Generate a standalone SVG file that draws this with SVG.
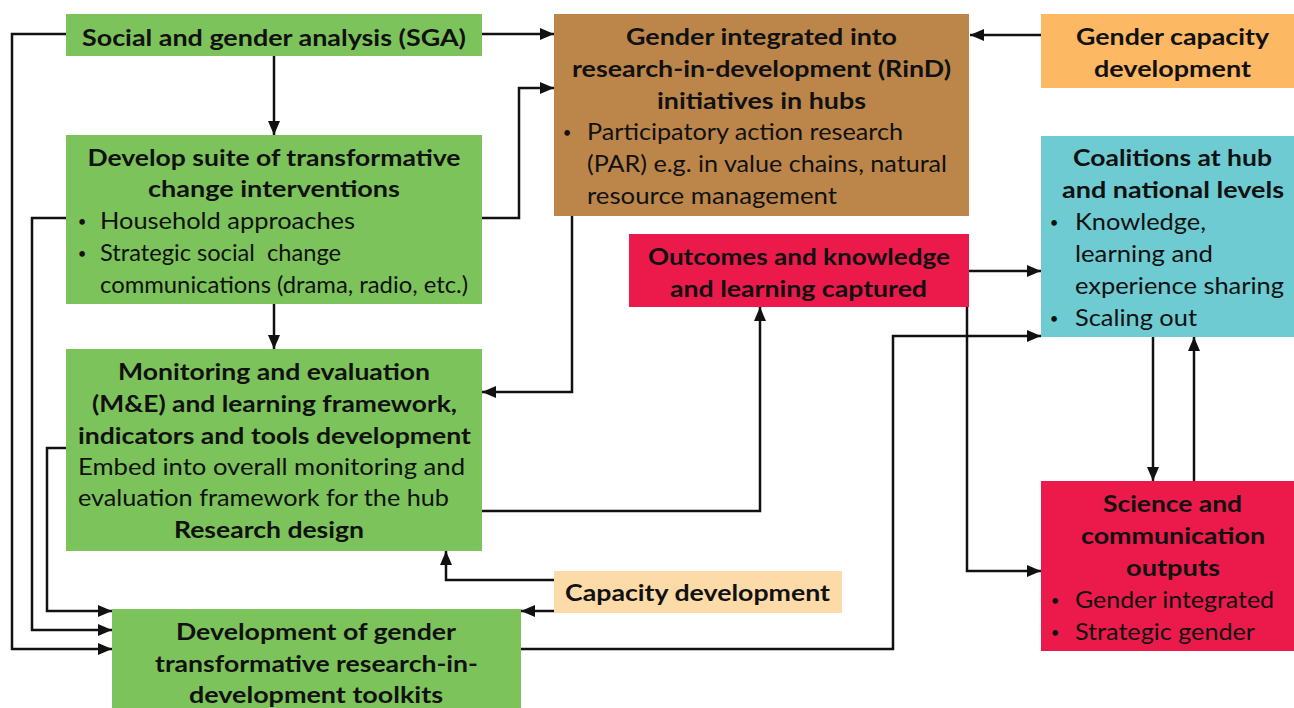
<svg xmlns="http://www.w3.org/2000/svg" width="1294" height="708" viewBox="0 0 1294 708">
<style>
text{font-family:Lato,"Liberation Sans",sans-serif;font-size:23px;fill:#111;}
.b{font-weight:bold;}
.dot{font-size:15px;text-anchor:middle;}
.green{fill:#7dc35b;}
.brown{fill:#bc864b;}
.orange{fill:#fdb863;}
.teal{fill:#6dcbd1;}
.red{fill:#ec1a4b;}
.peach{fill:#fddba8;}
.c{fill:none;stroke:#111;stroke-width:2.5;}
</style>
<defs>
<marker id="ah" viewBox="0 0 14 12" refX="14" refY="6" markerWidth="14" markerHeight="12" markerUnits="userSpaceOnUse" orient="auto">
<path d="M0,0 L14,6 L0,12 z" fill="#111"/>
</marker>
</defs>
<rect width="1294" height="708" fill="#fff"/>
<g id="connectors">
<path class="c" d="M66,34 H12 V649 H112" marker-end="url(#ah)"/>
<path class="c" d="M482,34 H554" marker-end="url(#ah)"/>
<path class="c" d="M274,56 V135" marker-end="url(#ah)"/>
<path class="c" d="M482,218 H519 V88 H554" marker-end="url(#ah)"/>
<path class="c" d="M66,218 H32 V630 H112" marker-end="url(#ah)"/>
<path class="c" d="M274,304 V349" marker-end="url(#ah)"/>
<path class="c" d="M66,448 H47 V611 H112" marker-end="url(#ah)"/>
<path class="c" d="M572,216 V392 H482" marker-end="url(#ah)"/>
<path class="c" d="M482,511 H760 V307" marker-end="url(#ah)"/>
<path class="c" d="M554,580 H446 V551" marker-end="url(#ah)"/>
<path class="c" d="M554,611 H521" marker-end="url(#ah)"/>
<path class="c" d="M521,649 H893 V336 H1041" marker-end="url(#ah)"/>
<path class="c" d="M969,271 H1041" marker-end="url(#ah)"/>
<path class="c" d="M967,307 V571 H1041" marker-end="url(#ah)"/>
<path class="c" d="M1153,337 V481" marker-end="url(#ah)"/>
<path class="c" d="M1194,481 V337" marker-end="url(#ah)"/>
<path class="c" d="M1041,35 H970" marker-end="url(#ah)"/>
</g>
<g id="sga">
<rect class="green" x="66" y="14" width="416" height="42"/>
<text class="b" x="82" y="46" textLength="384" lengthAdjust="spacingAndGlyphs">Social and gender analysis (SGA)</text>
</g>
<g id="develop-suite">
<rect class="green" x="66" y="135" width="416" height="169"/>
<text class="b" x="87.5" y="166" textLength="373" lengthAdjust="spacingAndGlyphs">Develop suite of transformative</text>
<text class="b" x="148" y="197" textLength="252" lengthAdjust="spacingAndGlyphs">change interventions</text>
<text class="dot" x="82" y="227">•</text>
<text x="100" y="229" textLength="255" lengthAdjust="spacingAndGlyphs">Household approaches</text>
<text class="dot" x="82" y="259">•</text>
<text x="100" y="261" textLength="241" lengthAdjust="spacingAndGlyphs" xml:space="preserve">Strategic social  change</text>
<text x="100" y="293" textLength="368" lengthAdjust="spacingAndGlyphs">communications (drama, radio, etc.)</text>
</g>
<g id="me-framework">
<rect class="green" x="66" y="349" width="416" height="202"/>
<text class="b" x="118" y="380" textLength="312" lengthAdjust="spacingAndGlyphs">Monitoring and evaluation</text>
<text class="b" x="92" y="412" textLength="365" lengthAdjust="spacingAndGlyphs">(M&amp;E) and learning framework,</text>
<text class="b" x="78" y="444" textLength="393" lengthAdjust="spacingAndGlyphs">indicators and tools development</text>
<text x="78" y="475" textLength="387" lengthAdjust="spacingAndGlyphs">Embed into overall monitoring and</text>
<text x="78" y="506" textLength="371" lengthAdjust="spacingAndGlyphs">evaluation framework for the hub</text>
<text class="b" x="174" y="538" textLength="190" lengthAdjust="spacingAndGlyphs">Research design</text>
</g>
<g id="toolkits">
<rect class="green" x="112" y="609" width="409" height="99"/>
<text class="b" x="176" y="640" textLength="280" lengthAdjust="spacingAndGlyphs">Development of gender</text>
<text class="b" x="155" y="672" textLength="323" lengthAdjust="spacingAndGlyphs">transformative research-in-</text>
<text class="b" x="189" y="703" textLength="254" lengthAdjust="spacingAndGlyphs">development toolkits</text>
</g>
<g id="rind">
<rect class="brown" x="554" y="14" width="415" height="202"/>
<text class="b" x="626" y="45" textLength="271" lengthAdjust="spacingAndGlyphs">Gender integrated into</text>
<text class="b" x="572" y="77" textLength="379" lengthAdjust="spacingAndGlyphs">research-in-development (RinD)</text>
<text class="b" x="657" y="109" textLength="209" lengthAdjust="spacingAndGlyphs">initiatives in hubs</text>
<text class="dot" x="567" y="138">•</text>
<text x="587" y="140" textLength="316" lengthAdjust="spacingAndGlyphs">Participatory action research</text>
<text x="587" y="172" textLength="360" lengthAdjust="spacingAndGlyphs">(PAR) e.g. in value chains, natural</text>
<text x="587" y="204" textLength="250" lengthAdjust="spacingAndGlyphs">resource management</text>
</g>
<g id="gender-capacity">
<rect class="orange" x="1041" y="14" width="253" height="74"/>
<text class="b" x="1076" y="45" textLength="193" lengthAdjust="spacingAndGlyphs">Gender capacity</text>
<text class="b" x="1094" y="77" textLength="157" lengthAdjust="spacingAndGlyphs">development</text>
</g>
<g id="coalitions">
<rect class="teal" x="1041" y="136" width="253" height="201"/>
<text class="b" x="1073" y="166" textLength="199" lengthAdjust="spacingAndGlyphs">Coalitions at hub</text>
<text class="b" x="1062" y="198" textLength="222" lengthAdjust="spacingAndGlyphs">and national levels</text>
<text class="dot" x="1054" y="228">•</text>
<text x="1075" y="230" textLength="131" lengthAdjust="spacingAndGlyphs">Knowledge,</text>
<text x="1075" y="262" textLength="138" lengthAdjust="spacingAndGlyphs">learning and</text>
<text x="1075" y="294" textLength="209" lengthAdjust="spacingAndGlyphs">experience sharing</text>
<text class="dot" x="1054" y="324">•</text>
<text x="1075" y="326" textLength="122" lengthAdjust="spacingAndGlyphs">Scaling out</text>
</g>
<g id="outcomes">
<rect class="red" x="629" y="234" width="340" height="73"/>
<text class="b" x="648" y="265" textLength="302" lengthAdjust="spacingAndGlyphs">Outcomes and knowledge</text>
<text class="b" x="670" y="297" textLength="257" lengthAdjust="spacingAndGlyphs">and learning captured</text>
</g>
<g id="science-outputs">
<rect class="red" x="1041" y="481" width="253" height="170"/>
<text class="b" x="1103" y="512" textLength="139" lengthAdjust="spacingAndGlyphs">Science and</text>
<text class="b" x="1081" y="544" textLength="184" lengthAdjust="spacingAndGlyphs">communication</text>
<text class="b" x="1126" y="576" textLength="94" lengthAdjust="spacingAndGlyphs">outputs</text>
<text class="dot" x="1055" y="606">•</text>
<text x="1075" y="608" textLength="199" lengthAdjust="spacingAndGlyphs">Gender integrated</text>
<text class="dot" x="1055" y="638">•</text>
<text x="1075" y="640" textLength="180" lengthAdjust="spacingAndGlyphs">Strategic gender</text>
</g>
<g id="capacity-development">
<rect class="peach" x="554" y="571" width="288" height="42"/>
<text class="b" x="565" y="601" textLength="265" lengthAdjust="spacingAndGlyphs">Capacity development</text>
</g>
</svg>
